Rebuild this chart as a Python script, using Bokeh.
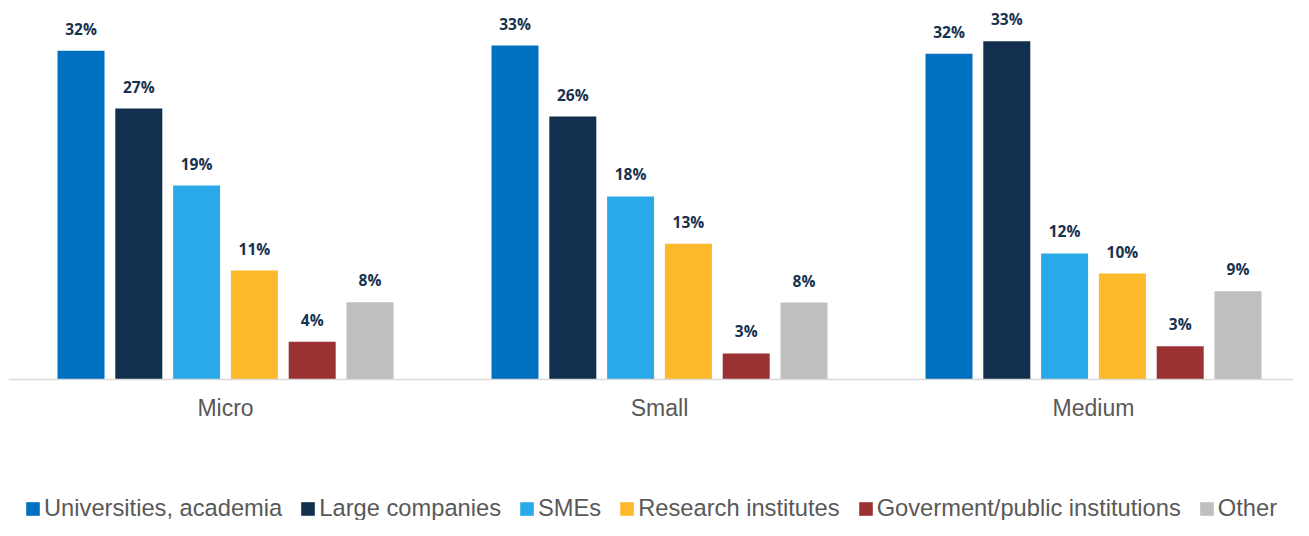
from bokeh.plotting import figure
from bokeh.models import ColumnDataSource, Range1d, FixedTicker, Legend, LegendItem
from bokeh.embed import file_html
from bokeh.resources import INLINE
from bokeh.core.properties import value

# ---- data ----
groups = ["Micro", "Small", "Medium"]
series = ["Universities, academia", "Large companies", "SMEs",
          "Research institutes", "Goverment/public institutions", "Other"]
universities = [32.45, 32.97, 32.15]
large_companies = [26.75, 25.96, 33.40]
smes = [19.15, 18.07, 12.44]
research_institutes = [10.76, 13.40, 10.46]
government = [3.72, 2.57, 3.29]
other = [7.63, 7.60, 8.72]
colors = ["#0070C0", "#12304E", "#29A9E8", "#FDB92C", "#9A3234", "#BFBFBF"]

values = [universities, large_companies, smes, research_institutes, government, other]

# ---- layout constants ----
W, H = 1293, 520
left_pad = 8
px_per_group = 434.0
px_per_pct = 10.13
baseline_px = 379.0
bar_width = 47.0 / px_per_group
step = 57.8 / px_per_group

x_start = -0.5
x_end = x_start + (W - left_pad) / px_per_group
y_end = baseline_px / px_per_pct
y_start = -(H - baseline_px) / px_per_pct

p = figure(width=W, height=H, output_backend="svg", toolbar_location=None,
           x_range=Range1d(x_start, x_end), y_range=Range1d(y_start, y_end),
           y_axis_location=None, min_border=0, min_border_left=left_pad,
           outline_line_color=None)
p.grid.visible = False

xaxis = p.xaxis[0]
xaxis.fixed_location = 0
xaxis.ticker = FixedTicker(ticks=list(range(len(groups))))
xaxis.major_label_overrides = {i: g for i, g in enumerate(groups)}
xaxis.axis_line_color = "#D9D9D9"
xaxis.axis_line_width = 1.5
xaxis.major_tick_line_color = None
xaxis.minor_tick_line_color = None
xaxis.major_tick_out = 0
xaxis.major_tick_in = 0
xaxis.major_label_standoff = 15
xaxis.major_label_text_font = "Liberation Sans"
xaxis.major_label_text_font_size = "23px"
xaxis.major_label_text_color = "#595959"

items = []
for j, (name, vals, col) in enumerate(zip(series, values, colors)):
    off = (j - 2.5) * step
    src = ColumnDataSource(dict(
        x=[i + off for i in range(len(groups))],
        top=vals,
        label=[f"{round(v)}%" for v in vals],
    ))
    r = p.vbar(x="x", top="top", bottom=0, width=bar_width, source=src,
               fill_color=col, line_color=None)
    p.text(x="x", y="top", text="label", source=src, text_align="center",
           text_baseline="alphabetic", y_offset=-22,
           text_font=value("Open Sans"), text_font_style="bold",
           text_font_size="15.5px", text_color="#17324F")
    items.append(LegendItem(label=name, renderers=[r]))

legend = Legend(items=items, location=(16, -2), orientation="horizontal",
                glyph_width=17, glyph_height=17, label_standoff=3, spacing=17,
                padding=0, margin=0, border_line_color=None,
                background_fill_alpha=0,
                label_text_font="Liberation Sans", label_text_font_size="23.7px",
                label_text_color="#595959")
p.add_layout(legend)

open("out.html", "w").write(file_html(p, INLINE))
